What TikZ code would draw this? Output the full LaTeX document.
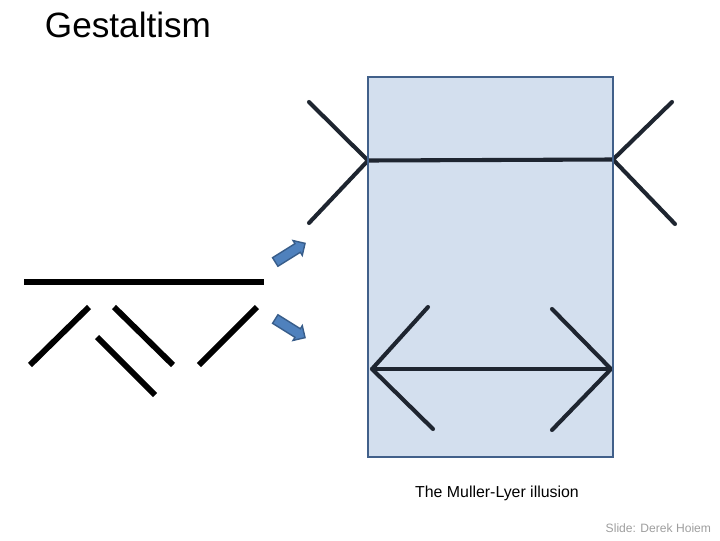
\documentclass[tikz,border=0pt]{standalone}
\usepackage{fontspec}
\setmainfont{Liberation Sans}
\usetikzlibrary{shapes.arrows}

\definecolor{boxfill}{HTML}{D3DFEE}
\definecolor{boxline}{HTML}{41608A}
\definecolor{arrfill}{HTML}{4F81BD}
\definecolor{arrline}{HTML}{385D8A}
\definecolor{inkline}{HTML}{1E2530}

\tikzset{
    stroke/.style={line width=4.2pt, black},
    fin/.style={line width=2.9pt, inkline, line cap=round, line join=round},
    blockarrow/.style={single arrow, draw=arrline, fill=arrfill, line width=1pt,
        minimum height=25pt, inner sep=3.1pt, single arrow head extend=2.6pt,
        font=\fontsize{0.1}{0.1}\selectfont},
}

\begin{document}
\begin{tikzpicture}[x=0.025cm, y=-0.025cm]

\useasboundingbox (0,0) rectangle (720,540);

% =========================================================
%  Title
% =========================================================
\node[font=\fontsize{25}{30}\selectfont, anchor=west] (title) at (40,25) {Gestaltism};

% =========================================================
%  LEFT SIDE: loose strokes
% =========================================================
\begin{scope}
    \draw[stroke] (24,282) -- (264,282);
    \draw[stroke] (30,365) -- (89,307);
    \draw[stroke] (97,337) -- (155,395);
    \draw[stroke] (114,307) -- (173,365);
    \draw[stroke] (199,365) -- (257,307);
\end{scope}

% Block arrows towards the two readings
\node[blockarrow, rotate=32]  (upper) at (288,254) {};
\node[blockarrow, rotate=-32] (lower) at (288,327) {};

% =========================================================
%  RIGHT SIDE: Muller-Lyer figures
% =========================================================
\begin{scope}
    \fill[boxfill] (368,77) rectangle (613,457);

    % --- upper figure: fins outwards ---
    \draw[fin] (309,102) -- (368,160.5) -- (309,223);
    \draw[fin] (368,160.5) -- (613,159.5);
    \draw[fin] (672,102) -- (613,159.5) -- (675,224);

    % --- lower figure: fins inwards ---
    \draw[fin] (428,307) -- (372,369) -- (433,429);
    \draw[fin] (372,369) -- (611,369);
    \draw[fin] (552,309) -- (611,369) -- (552,430);

    \draw[boxline, line width=2pt] (368,77) rectangle (613,457);
\end{scope}

\node[font=\fontsize{11.3}{13}\selectfont] (caption) at (497,493) {The Muller-Lyer illusion};
\node[font=\fontsize{8.6}{10}\selectfont, text=black!38, anchor=east] (credit) at (716,528) {Slide: Derek Hoiem};

\end{tikzpicture}
\end{document}
